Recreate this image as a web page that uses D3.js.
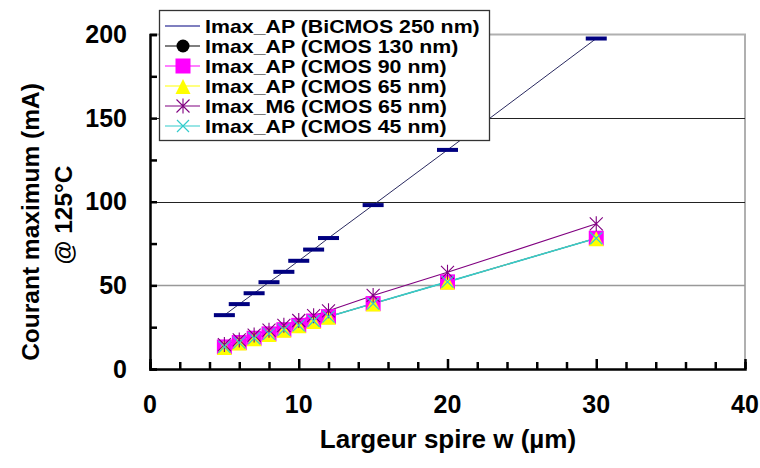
<!DOCTYPE html>
<html>
<head>
<meta charset="utf-8">
<script src="https://cdn.jsdelivr.net/npm/d3@7"></script>
<style>
  html, body { margin: 0; padding: 0; background: #fff; }
  svg { display: block; font-family: "Liberation Sans", Arial, sans-serif; font-weight: bold; }
</style>
</head>
<body>
<svg id="chart" width="760" height="468"></svg>
<script>
// ---- Data ----
const widths = [5, 6, 7, 8, 9, 10, 11, 12, 15, 20, 30];
const bicmos250 = [32.2, 38.8, 45.3, 51.9, 58.1, 64.7, 71.4, 78.3, 98.0, 131.0, 197.6];
const cmos130   = [13.2, 15.8, 18.4, 21.0, 23.5, 26.1, 28.7, 31.3, 39.1, 52.1, 78.2];
const cmos90    = [13.2, 15.8, 18.4, 21.0, 23.5, 26.1, 28.7, 31.3, 39.1, 52.1, 78.2];
const cmos65    = [13.2, 15.8, 18.4, 21.0, 23.5, 26.1, 28.7, 31.3, 39.1, 52.1, 78.2];
const m6cmos65  = [14.6, 17.4, 20.3, 23.2, 26.1, 29.0, 31.9, 34.8, 44.0, 57.8, 86.8];
const cmos45    = [13.2, 15.8, 18.4, 21.0, 23.5, 26.1, 28.7, 31.3, 39.1, 52.1, 78.2];

const seriesNames = [
  "Imax_AP (BiCMOS 250 nm)",
  "Imax_AP (CMOS 130 nm)",
  "Imax_AP (CMOS 90 nm)",
  "Imax_AP (CMOS 65 nm)",
  "Imax_M6 (CMOS 65 nm)",
  "Imax_AP (CMOS 45 nm)"
];
const seriesValues = [bicmos250, cmos130, cmos90, cmos65, m6cmos65, cmos45];
const seriesColors = ["#000080", "#000000", "#ff00ff", "#ffff00", "#800080", "#33cccc"];
const seriesMarkers = ["dash", "circle", "square", "triangle", "star", "x"];

const xTickLabels = [0, 10, 20, 30, 40];
const yTickLabels = [0, 50, 100, 150, 200];
const xTitle = "Largeur spire w (µm)";
const yTitle1 = "Courant maximum (mA)";
const yTitle2 = "@ 125°C";

// ---- Layout ----
const svg = d3.select("#chart");
const L = 150, R = 745, T = 34.5, B = 369;
const x = d3.scaleLinear().domain([0, 40]).range([L, R]);
const y = d3.scaleLinear().domain([0, 200]).range([B, T]);

svg.append("rect").attr("width", 760).attr("height", 468).attr("fill", "#fff");

// plot area border (top + right, gray)
svg.append("path")
  .attr("d", `M${L},${T}H${R}V${B}`)
  .attr("fill", "none").attr("stroke", "#b0b0b0").attr("stroke-width", 2);

// gridlines
const gridVals = [50, 100, 150];
svg.append("g").selectAll("line").data(gridVals).join("line")
  .attr("x1", L).attr("x2", R)
  .attr("y1", d => Math.round(y(d)) + 0.5).attr("y2", d => Math.round(y(d)) + 0.5)
  .attr("stroke", d => d === 50 ? "#999" : "#222")
  .attr("stroke-width", d => d === 50 ? 1.6 : 1.1);

// series lines
const lineGen = d3.line().x(d => x(d[0])).y(d => y(d[1]));
const lineWidths = [1, 1, 1, 1, 1.1, 1.6];
seriesValues.forEach((vals, i) => {
  const pts = widths.map((w, j) => [w, vals[j]]);
  svg.append("path").datum(pts)
    .attr("d", lineGen)
    .attr("fill", "none")
    .attr("stroke", i === 0 ? "#2a2a60" : seriesColors[i])
    .attr("stroke-width", lineWidths[i]);
});

// marker drawing
function drawMarker(g, type, cx, cy, color) {
  if (type === "dash") {
    g.append("rect").attr("x", cx - 10.5).attr("y", cy - 2).attr("width", 21).attr("height", 4)
      .attr("fill", color);
  } else if (type === "circle") {
    g.append("circle").attr("cx", cx).attr("cy", cy).attr("r", 6.5).attr("fill", color);
  } else if (type === "square") {
    g.append("rect").attr("x", cx - 7.5).attr("y", cy - 7.5).attr("width", 15).attr("height", 15)
      .attr("fill", color);
  } else if (type === "triangle") {
    g.append("path")
      .attr("d", `M${cx},${cy - 7}L${cx + 7.5},${cy + 8}L${cx - 7.5},${cy + 8}Z`)
      .attr("fill", color);
  } else if (type === "star") {
    const s = 6.5;
    g.append("path")
      .attr("d", `M${cx - s},${cy - s}L${cx + s},${cy + s}M${cx + s},${cy - s}L${cx - s},${cy + s}M${cx},${cy - s - 1}L${cx},${cy + s + 1}`)
      .attr("stroke", color).attr("stroke-width", 1.1).attr("fill", "none");
  } else if (type === "x") {
    const s = 6;
    g.append("path")
      .attr("d", `M${cx - s},${cy - s}L${cx + s},${cy + s}M${cx + s},${cy - s}L${cx - s},${cy + s}`)
      .attr("stroke", color).attr("stroke-width", 1.2).attr("fill", "none");
  }
}

seriesValues.forEach((vals, i) => {
  const g = svg.append("g");
  widths.forEach((w, j) => drawMarker(g, seriesMarkers[i], x(w), y(vals[j]), seriesColors[i]));
});

// axes
const yAxis = d3.axisLeft(y)
  .tickValues(d3.range(0, 201, 25))
  .tickSize(-7)
  .tickPadding(23)
  .tickFormat(d => yTickLabels.includes(d) ? d : "");
const gy = svg.append("g").attr("transform", `translate(${L},0)`).call(yAxis);
gy.select(".domain").attr("stroke", "#000").attr("stroke-width", 2.5);
gy.selectAll(".tick line").attr("stroke", "#000").attr("stroke-width", 2.5);
gy.selectAll(".tick text").attr("font-size", 25).attr("font-weight", "bold")
  .attr("font-family", "Liberation Sans, Arial, sans-serif").attr("fill", "#000");

const xAxis = d3.axisBottom(x)
  .tickValues(d3.range(0, 41, 2))
  .tickSize(-7)
  .tickFormat("");
const gx = svg.append("g").attr("transform", `translate(0,${B})`).call(xAxis);
gx.select(".domain").attr("stroke", "#000").attr("stroke-width", 2.5);
gx.selectAll(".tick line").attr("stroke", "#000").attr("stroke-width", 2.5)
  .attr("y2", d => d % 10 === 0 ? -10 : -7);

svg.append("g").selectAll("text").data(xTickLabels).join("text")
  .attr("x", d => x(d)).attr("y", 413)
  .attr("text-anchor", "middle").attr("font-size", 25).attr("fill", "#000")
  .text(d => d);

// axis titles
svg.append("text").attr("x", 448).attr("y", 448)
  .attr("text-anchor", "middle").attr("font-size", 26).attr("fill", "#000").text(xTitle);

svg.append("text")
  .attr("transform", "translate(39,222) rotate(-90)")
  .attr("text-anchor", "middle").attr("font-size", 24.5).attr("fill", "#000").text(yTitle1);
svg.append("text")
  .attr("transform", "translate(72,215) rotate(-90)")
  .attr("text-anchor", "middle").attr("font-size", 24.5).attr("fill", "#000").text(yTitle2);

// legend
const lg = svg.append("g");
lg.append("rect").attr("x", 159.5).attr("y", 10.5).attr("width", 330).attr("height", 130)
  .attr("fill", "#fff").attr("stroke", "#333").attr("stroke-width", 1.3);
seriesNames.forEach((name, i) => {
  const cy = 26 + i * 20;
  lg.append("line").attr("x1", 165).attr("x2", 200).attr("y1", cy).attr("y2", cy)
    .attr("stroke", seriesColors[i]).attr("stroke-width", 1.2);
  if (i > 0) drawMarker(lg, seriesMarkers[i], 183, cy, seriesColors[i]);
  const t = lg.append("text").attr("x", 205).attr("y", cy + 6.5)
    .attr("font-size", 17.8).attr("fill", "#000").text(name);
  const natural = t.node().getComputedTextLength();
  t.attr("textLength", natural * 1.2).attr("lengthAdjust", "spacingAndGlyphs");
});
</script>
</body>
</html>
